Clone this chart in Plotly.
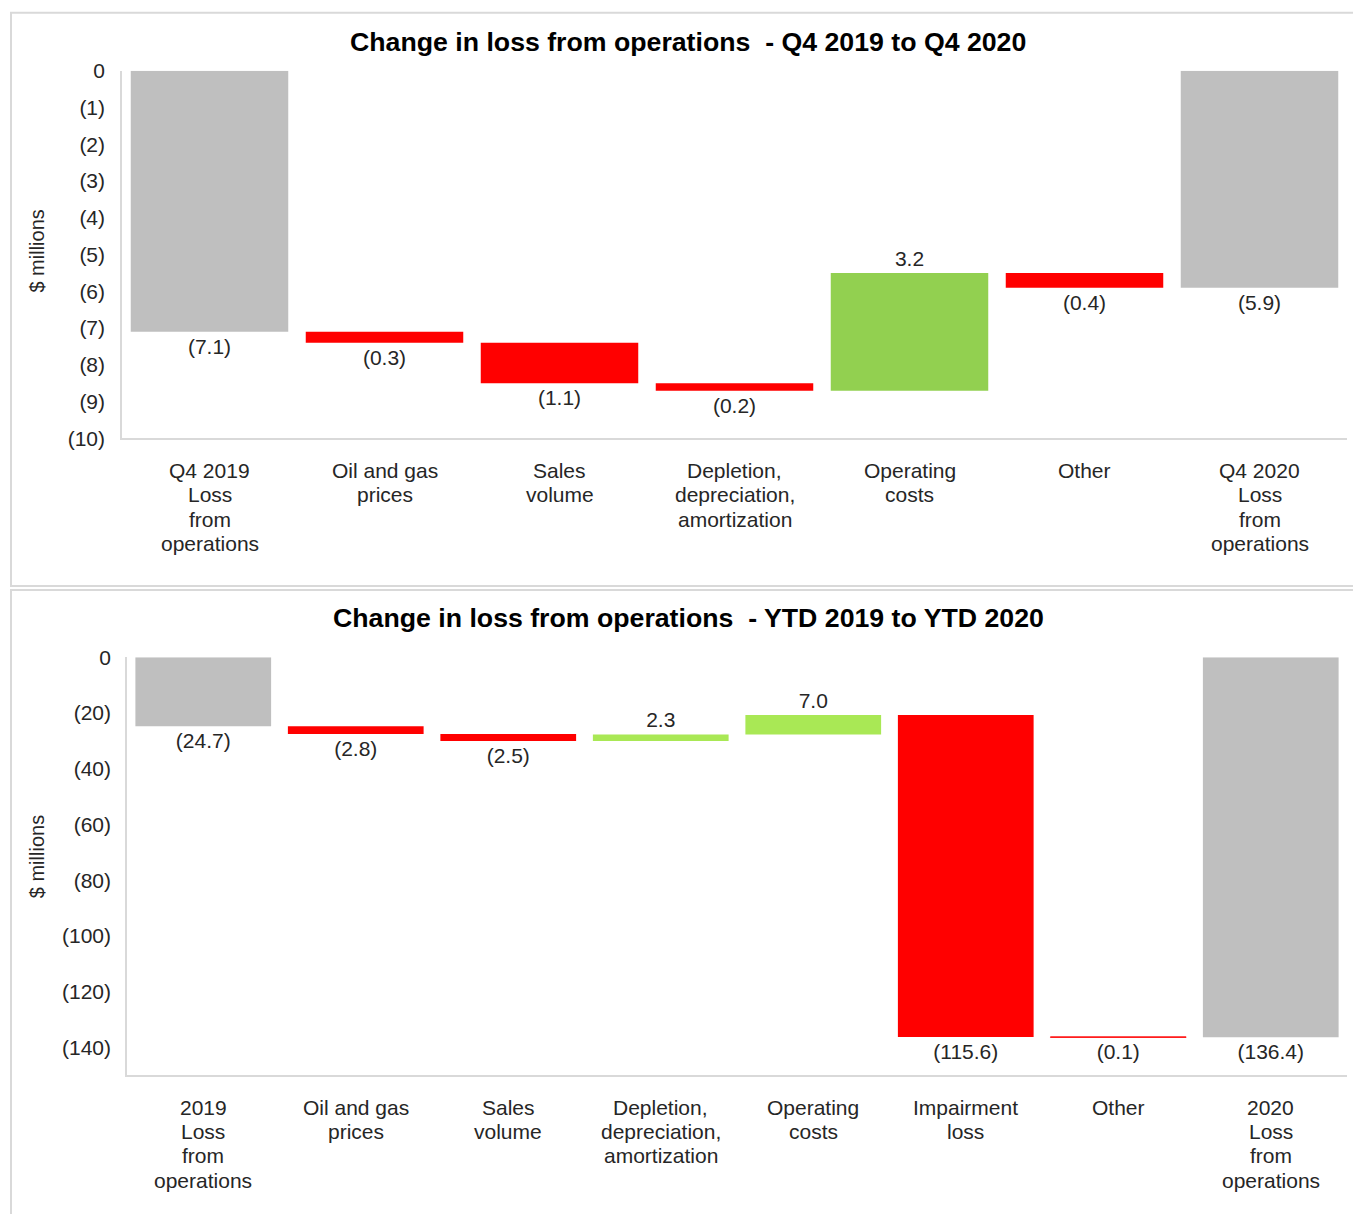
import plotly.graph_objects as go

# ---------------- data ----------------
top_title = "Change in loss from operations  - Q4 2019 to Q4 2020"
top_categories = ["Q4 2019<br>Loss<br>from<br>operations", "Oil and gas<br>prices", "Sales<br>volume",
                  "Depletion,<br>depreciation,<br>amortization", "Operating<br>costs", "Other",
                  "Q4 2020<br>Loss<br>from<br>operations"]
top_values = [-7.1, -0.3, -1.1, -0.2, 3.2, -0.4, -5.9]
top_kinds = ["total", "delta", "delta", "delta", "delta", "delta", "total"]
top_tickvals = [0, -1, -2, -3, -4, -5, -6, -7, -8, -9, -10]
top_ticktext = ["0", "(1)", "(2)", "(3)", "(4)", "(5)", "(6)", "(7)", "(8)", "(9)", "(10)"]

bot_title = "Change in loss from operations  - YTD 2019 to YTD 2020"
bot_categories = ["2019<br>Loss<br>from<br>operations", "Oil and gas<br>prices", "Sales<br>volume",
                  "Depletion,<br>depreciation,<br>amortization", "Operating<br>costs", "Impairment<br>loss",
                  "Other", "2020<br>Loss<br>from<br>operations"]
bot_values = [-24.7, -2.8, -2.5, 2.3, 7.0, -115.6, -0.1, -136.4]
bot_kinds = ["total", "delta", "delta", "delta", "delta", "delta", "delta", "total"]
bot_tickvals = [0, -20, -40, -60, -80, -100, -120, -140]
bot_ticktext = ["0", "(20)", "(40)", "(60)", "(80)", "(100)", "(120)", "(140)"]

# ---------------- style ----------------
W, H = 1353, 1214
FONT = "Liberation Sans, Arial, sans-serif"
GRAY = "#BFBFBF"
RED = "#FF0000"
GREEN_TOP = "#92D050"
GREEN_BOT = "#A9E855"
AXIS = "#D9D9D9"
TXT = "#262626"
# vertical compensation for the capture (measured)
Y_OFF, Y_SCALE = 11.3, 0.9816


def px_x(x):
    return x / W


def px_y(y):
    return 1 - ((y - Y_OFF) / Y_SCALE) / H


def waterfall_parts(values, kinds, green):
    bases, heights, colors, texts, lw = [], [], [], [], []
    running = 0.0
    for v, k in zip(values, kinds):
        if k == "total":
            bases.append(0.0)
            heights.append(v)
            running = v
            colors.append(GRAY)
        else:
            bases.append(running)
            heights.append(v)
            running += v
            colors.append(green if v > 0 else RED)
        texts.append(f"({abs(v):.1f})" if v < 0 else f"{v:.1f}")
        lw.append(1 if abs(v) < 0.15 and k != "total" else 0)
    return bases, heights, colors, texts, lw


fig = go.Figure()

panels = [
    dict(cats=top_categories, vals=top_values, kinds=top_kinds, green=GREEN_TOP,
         xa="x", ya="y", xdom=[px_x(122), px_x(1347)], ydom=[px_y(438), px_y(70)],
         yrange=[-10, 0], tv=top_tickvals, tt=top_ticktext, bargap=0.1, yticklen=11,
         title=top_title, title_y=41, ytitle_y=251, cat_y0=470),
    dict(cats=bot_categories, vals=bot_values, kinds=bot_kinds, green=GREEN_BOT,
         xa="x2", ya="y2", xdom=[px_x(127), px_x(1347)], ydom=[px_y(1075), px_y(657)],
         yrange=[-150, 0], tv=bot_tickvals, tt=bot_ticktext, bargap=0.11, yticklen=10,
         title=bot_title, title_y=618, ytitle_y=857, cat_y0=1107),
]
LINE_STEP = 24.4

for i, p in enumerate(panels):
    bases, heights, colors, texts, lw = waterfall_parts(p["vals"], p["kinds"], p["green"])
    fig.add_trace(go.Bar(
        x=list(range(len(p["cats"]))), y=heights, base=bases,
        marker=dict(color=colors, line=dict(color=colors, width=lw)),
        text=texts, textposition="outside", cliponaxis=False,
        textfont=dict(family=FONT, size=21, color=TXT),
        width=1 - p["bargap"],
        xaxis=p["xa"], yaxis=p["ya"], showlegend=False, hoverinfo="skip",
    ))
    suffix = "" if i == 0 else "2"
    fig.layout["xaxis" + suffix] = dict(
        domain=p["xdom"], anchor=p["ya"], showgrid=False, zeroline=False,
        range=[-0.5, len(p["cats"]) - 0.5],
        showline=True, linecolor=AXIS, linewidth=2,
        showticklabels=False, ticks="", fixedrange=True,
    )
    fig.layout["yaxis" + suffix] = dict(
        domain=p["ydom"], anchor=p["xa"], range=p["yrange"], showgrid=False, zeroline=False,
        showline=True, linecolor=AXIS, linewidth=1.5,
        tickvals=p["tv"], ticktext=p["tt"],
        ticks="outside", ticklen=p["yticklen"], tickcolor="rgba(0,0,0,0)",
        tickfont=dict(family=FONT, size=21, color=TXT), fixedrange=True,
    )
    # category labels, one text line at a time for a tight line spacing
    for j, cat in enumerate(p["cats"]):
        for k, line in enumerate(cat.split("<br>")):
            fig.add_annotation(
                x=j, y=px_y(p["cat_y0"] + k * LINE_STEP), xref=p["xa"], yref="paper",
                text=line, showarrow=False,
                font=dict(family=FONT, size=21, color=TXT),
                xanchor="center", yanchor="middle",
            )
    fig.add_annotation(
        x=px_x(688), y=px_y(p["title_y"]), xref="paper", yref="paper",
        text="<b>" + p["title"] + "</b>", showarrow=False,
        font=dict(family=FONT, size=26.7, color="#000000"),
        xanchor="center", yanchor="middle",
    )
    fig.add_annotation(
        x=px_x(37), y=px_y(p["ytitle_y"]), xref="paper", yref="paper",
        text="$ millions", textangle=-90, showarrow=False,
        font=dict(family=FONT, size=20, color=TXT),
        xanchor="center", yanchor="middle",
    )

# panel borders
fig.add_shape(type="rect", xref="paper", yref="paper",
              x0=px_x(11), x1=px_x(1360), y0=px_y(585.5), y1=px_y(12),
              line=dict(color="#D9D9D9", width=2), fillcolor="rgba(0,0,0,0)", layer="below")
fig.add_shape(type="rect", xref="paper", yref="paper",
              x0=px_x(11), x1=px_x(1360), y0=px_y(1230), y1=px_y(589.5),
              line=dict(color="#D9D9D9", width=2), fillcolor="rgba(0,0,0,0)", layer="below")

fig.update_layout(
    width=W, height=H, margin=dict(l=0, r=0, t=0, b=0),
    paper_bgcolor="white", plot_bgcolor="white",
    barmode="overlay", font=dict(family=FONT, color=TXT),
)

fig.write_html(
    "out.html",
    config={"displayModeBar": False},
    post_script=(
        "var gd=document.getElementById('{plot_id}');"
        "gd.style.position='fixed';gd.style.top='0px';gd.style.left='0px';"
        "document.body.style.margin='0px';"
        "document.documentElement.style.overflow='hidden';"
    ),
)
